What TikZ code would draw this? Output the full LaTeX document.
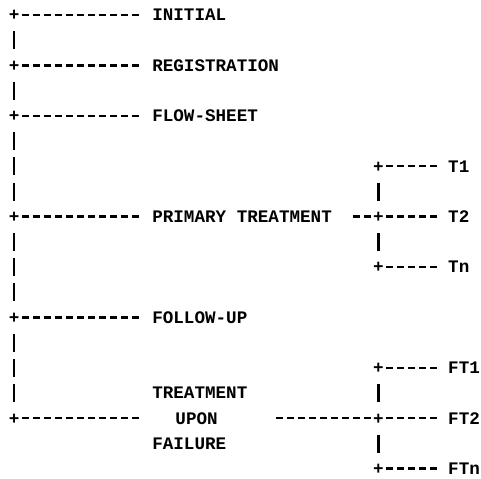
\documentclass[tikz,border=0pt]{standalone}
\usepackage{fontspec}
\setmonofont{Liberation Mono}
\newcommand{\ColW}{8.28pt}
\newcommand{\RowH}{18.9pt}
\newcommand{\ChartFont}{\fontsize{13.2pt}{14pt}\ttfamily\bfseries\selectfont}
\tikzset{
  junction/.style={
    font=\ChartFont,
    inner sep=0pt,
    minimum width=\ColW,
    minimum height=\RowH,
    text height=8.7pt,
    text depth=0pt
  },
  stage/.style={
    font=\ChartFont,
    anchor=west,
    inner sep=0pt,
    text height=8.7pt,
    text depth=0pt
  },
  hdash/.style={
    line width=1.8pt,
    dash pattern=on 5.25pt off 3.03pt,
    dash phase=6.77pt
  },
  vbar/.style={
    line width=2pt,
    dash pattern=on 13.5pt off 5.4pt,
    dash phase=16.2pt
  }
}

\begin{document}
\begin{tikzpicture}[x=\ColW,y=-\RowH]
  \useasboundingbox (-0.272,-0.595) rectangle (43.297,18.373);

  % main line
  \node[junction] (jInit) at (1,0) {+};
  \node[stage] (sInit) at (13.5,0) {INITIAL};
  \node[junction] (jReg) at (1,2) {+};
  \node[stage] (sReg) at (13.5,2) {REGISTRATION};
  \node[junction] (jFlow) at (1,4) {+};
  \node[stage] (sFlow) at (13.5,4) {FLOW-SHEET};
  \node[junction] (jPrim) at (1,8) {+};
  \node[stage] (sPrim) at (13.5,8) {PRIMARY TREATMENT};
  \node[junction] (jFoll) at (1,12) {+};
  \node[stage] (sFoll) at (13.5,12) {FOLLOW-UP};
  \node[junction] (jFail) at (1,16) {+};
  \node[stage] (sTreat) at (13.5,15) {TREATMENT};
  \node[stage] (sUpon) at (15.6,16) {UPON};
  \node[stage] (sFail) at (13.5,17) {FAILURE};

  % treatment branches
  \node[junction] (jT1) at (34,6) {+};
  \node[stage] (bT1) at (40.3,6) {T1};
  \node[junction] (jT2) at (34,8) {+};
  \node[stage] (bT2) at (40.3,8) {T2};
  \node[junction] (jTn) at (34,10) {+};
  \node[stage] (bTn) at (40.3,10) {Tn};

  % failure branches
  \node[junction] (jFT1) at (34,14) {+};
  \node[stage] (bFT1) at (40.3,14) {FT1};
  \node[junction] (jFT2) at (34,16) {+};
  \node[stage] (bFT2) at (40.3,16) {FT2};
  \node[junction] (jFTn) at (34,18) {+};
  \node[stage] (bFTn) at (40.3,18) {FTn};

  \draw[hdash,shorten >=\ColW] (jInit.east) -- (sInit.west);
  \draw[hdash,shorten >=\ColW] (jReg.east) -- (sReg.west);
  \draw[hdash,shorten >=\ColW] (jFlow.east) -- (sFlow.west);
  \draw[hdash,shorten >=\ColW] (jPrim.east) -- (sPrim.west);
  \draw[hdash,shorten >=\ColW] (jFoll.east) -- (sFoll.west);
  \draw[hdash,shorten >=3.1*\ColW] (jFail.east) -- (sUpon.west);

  \draw[vbar] (jInit.south) -- (jReg.north);
  \draw[vbar] (jReg.south) -- (jFlow.north);
  \draw[vbar] (jFlow.south) -- (jPrim.north);
  \draw[vbar] (jPrim.south) -- (jFoll.north);
  \draw[vbar] (jFoll.south) -- (jFail.north);

  \draw[hdash,shorten <=1.74*\ColW] (sPrim.east) -- (jT2.west);
  \draw[hdash,shorten <=5.07*\ColW] (sUpon.east) -- (jFT2.west);

  \draw[vbar] (jT1.south) -- (jT2.north);
  \draw[vbar] (jT2.south) -- (jTn.north);
  \draw[vbar] (jFT1.south) -- (jFT2.north);
  \draw[vbar] (jFT2.south) -- (jFTn.north);

  \draw[hdash,shorten >=0.8*\ColW] (jT1.east) -- (bT1.west);
  \draw[hdash,shorten >=0.8*\ColW] (jT2.east) -- (bT2.west);
  \draw[hdash,shorten >=0.8*\ColW] (jTn.east) -- (bTn.west);
  \draw[hdash,shorten >=0.8*\ColW] (jFT1.east) -- (bFT1.west);
  \draw[hdash,shorten >=0.8*\ColW] (jFT2.east) -- (bFT2.west);
  \draw[hdash,shorten >=0.8*\ColW] (jFTn.east) -- (bFTn.west);
\end{tikzpicture}
\end{document}
